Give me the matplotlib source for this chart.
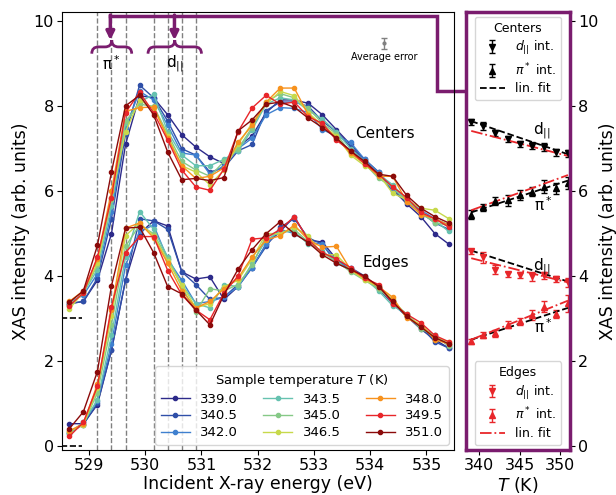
import numpy as np
import matplotlib
matplotlib.use("Agg")
import matplotlib.pyplot as plt
from matplotlib.path import Path
from matplotlib.patches import PathPatch

# incident energy grid (eV)
energy = [528.65, 528.90, 529.15, 529.40, 529.65, 529.90, 530.15, 530.40, 530.65, 530.90,
          531.15, 531.40, 531.65, 531.90, 532.15, 532.40, 532.65, 532.90, 533.15, 533.40,
          533.65, 533.90, 534.15, 534.40, 534.65, 534.90, 535.15, 535.40]

temps = [339.0, 340.5, 342.0, 343.5, 345.0, 346.5, 348.0, 349.5, 351.0]
colors = ["#2d2a8a", "#2f4fa8", "#3f80cf", "#66c2b0", "#86c987",
          "#c7d94b", "#f7921e", "#e8262a", "#8b0a0a"]

# spectra taken at the centers (shifted up by 3)
centers = [
    [3.35, 3.40, 3.90, 5.00, 7.10, 8.25, 8.20, 7.80, 7.33, 7.04, 6.81, 6.65, 7.05, 7.30, 7.85, 8.15, 8.15, 8.07, 7.80, 7.45, 7.10, 6.75, 6.45, 6.05, 5.70, 5.40, 5.00, 4.75],
    [3.35, 3.40, 3.95, 5.35, 7.35, 8.50, 8.20, 7.65, 7.00, 6.85, 6.45, 6.55, 6.95, 7.10, 7.90, 8.10, 8.10, 8.00, 7.65, 7.40, 7.05, 6.70, 6.40, 6.00, 5.75, 5.50, 5.25, 5.10],
    [3.38, 3.55, 4.05, 5.50, 7.50, 8.35, 8.15, 7.55, 6.90, 6.85, 6.40, 6.60, 7.00, 7.25, 7.80, 7.97, 7.95, 7.85, 7.45, 7.30, 7.15, 6.75, 6.45, 6.05, 5.80, 5.55, 5.35, 5.20],
    [3.30, 3.60, 4.15, 5.65, 7.60, 8.10, 8.28, 7.40, 6.85, 6.60, 6.60, 6.75, 6.95, 7.45, 8.05, 8.20, 8.15, 7.90, 7.70, 7.40, 7.00, 6.70, 6.40, 6.15, 5.80, 5.45, 5.30, 5.05],
    [3.32, 3.60, 4.25, 5.80, 7.65, 8.05, 8.00, 7.35, 6.70, 6.50, 6.35, 6.70, 7.00, 7.50, 8.10, 8.30, 8.20, 7.95, 7.60, 7.35, 6.90, 6.65, 6.30, 6.10, 5.75, 5.50, 5.25, 5.20],
    [3.22, 3.62, 4.30, 5.85, 7.40, 8.15, 7.95, 7.30, 6.60, 6.45, 6.15, 6.50, 7.10, 7.60, 8.05, 8.35, 8.25, 7.85, 7.55, 7.30, 6.85, 6.60, 6.40, 5.95, 5.80, 5.60, 5.55, 5.35],
    [3.40, 3.65, 4.40, 6.00, 7.88, 7.97, 7.98, 7.25, 6.60, 6.30, 6.35, 6.55, 7.15, 7.55, 8.10, 8.43, 8.43, 7.80, 7.55, 7.25, 6.90, 6.65, 6.35, 6.35, 5.75, 5.45, 5.35, 5.20],
    [3.30, 3.60, 4.45, 5.85, 7.85, 8.33, 7.85, 7.20, 6.50, 6.10, 6.02, 6.52, 7.40, 7.96, 8.26, 8.05, 8.10, 7.75, 7.60, 7.20, 6.95, 6.65, 6.40, 6.10, 5.85, 5.50, 5.35, 5.15],
    [3.38, 3.65, 4.72, 6.45, 8.01, 8.26, 7.80, 6.92, 6.27, 6.30, 6.25, 6.32, 7.42, 7.68, 8.05, 8.10, 7.98, 7.72, 7.50, 7.25, 6.95, 6.70, 6.40, 6.35, 5.90, 5.60, 5.40, 5.25],
]

# spectra taken at the edges
edges = [
    [0.52, 0.52, 0.97, 2.25, 3.90, 5.00, 5.30, 5.18, 4.10, 3.93, 3.98, 3.45, 3.75, 4.20, 4.75, 5.05, 5.40, 4.85, 4.80, 4.40, 4.15, 3.95, 3.70, 3.35, 3.05, 2.75, 2.50, 2.30],
    [0.30, 0.50, 1.00, 2.25, 3.90, 5.35, 5.30, 5.10, 4.10, 3.80, 3.45, 3.50, 3.80, 4.20, 4.70, 5.15, 5.35, 4.90, 4.75, 4.30, 4.20, 4.00, 3.70, 3.40, 3.05, 2.80, 2.45, 2.30],
    [0.30, 0.55, 1.05, 2.40, 4.25, 5.05, 5.20, 4.40, 3.90, 3.35, 3.40, 3.50, 3.75, 4.20, 4.75, 5.10, 5.00, 4.80, 4.75, 4.35, 4.20, 3.95, 3.75, 3.35, 3.05, 2.80, 2.60, 2.35],
    [0.28, 0.55, 1.08, 2.60, 4.45, 5.52, 5.10, 4.45, 3.80, 3.35, 3.25, 3.80, 3.75, 4.30, 4.85, 5.05, 5.05, 4.75, 4.60, 4.30, 4.15, 3.95, 3.65, 3.30, 3.10, 2.80, 2.55, 2.40],
    [0.32, 0.50, 1.25, 2.85, 4.70, 5.20, 5.00, 4.40, 3.75, 3.15, 3.70, 3.65, 3.80, 4.25, 4.95, 5.00, 5.10, 4.80, 4.55, 4.35, 4.10, 3.90, 3.70, 3.40, 3.10, 2.75, 2.60, 2.35],
    [0.35, 0.48, 1.35, 3.05, 4.95, 5.25, 4.95, 4.35, 3.80, 3.25, 3.35, 3.75, 3.90, 4.40, 5.00, 5.00, 5.15, 4.95, 4.50, 4.50, 4.15, 3.90, 3.75, 3.45, 3.05, 2.85, 2.55, 2.45],
    [0.35, 0.52, 1.45, 3.20, 5.13, 5.25, 4.90, 4.30, 3.65, 3.25, 3.40, 3.70, 3.95, 4.45, 4.85, 4.95, 5.20, 4.85, 4.68, 4.70, 4.15, 3.95, 3.75, 3.50, 3.00, 2.85, 2.50, 2.40],
    [0.22, 0.55, 1.40, 3.28, 4.55, 4.93, 4.93, 4.13, 3.56, 3.20, 2.97, 3.60, 4.00, 4.87, 4.90, 5.10, 5.40, 4.85, 4.55, 4.40, 4.20, 3.95, 3.80, 3.35, 3.10, 2.90, 2.60, 2.45],
    [0.40, 0.80, 1.75, 3.77, 5.13, 5.15, 4.55, 3.75, 3.58, 3.20, 2.85, 3.56, 4.16, 4.62, 5.00, 5.28, 5.00, 4.79, 4.50, 4.30, 4.15, 4.00, 3.75, 3.40, 3.05, 2.80, 2.55, 2.40],
]
offsets = [0, 3]
cut_energies = [529.15, 529.40, 529.65, 530.15, 530.40, 530.65, 530.90]

# integrated intensities vs temperature
c_dpar = [7.64, 7.54, 7.37, 7.22, 7.11, 7.07, 7.04, 6.92, 6.89]
c_dpar_err = [0.07, 0.10, 0.07, 0.07, 0.08, 0.08, 0.09, 0.08, 0.08]
c_pi = [5.45, 5.62, 5.77, 5.79, 5.91, 5.99, 6.11, 6.07, 6.19]
c_pi_err = [0.10, 0.08, 0.10, 0.13, 0.12, 0.10, 0.15, 0.13, 0.15]
e_dpar = [4.58, 4.44, 4.15, 4.04, 4.03, 3.99, 4.02, 3.93, 3.85]
e_dpar_err = [0.05, 0.13, 0.10, 0.06, 0.07, 0.10, 0.08, 0.07, 0.10]
e_pi = [2.46, 2.61, 2.65, 2.85, 2.93, 3.09, 3.28, 3.11, 3.36]
e_pi_err = [0.06, 0.07, 0.08, 0.08, 0.08, 0.12, 0.12, 0.10, 0.20]

fit_T = [339.0, 351.0]
fit_black = {"c_dpar": [7.65, 6.87], "c_pi": [5.50, 6.25], "e_dpar": [4.60, 3.87], "e_pi": [2.50, 3.25]}
fit_red = {"c_dpar": [7.42, 6.83], "c_pi": [5.55, 6.38], "e_dpar": [4.42, 3.85], "e_pi": [2.50, 3.42]}

purple = "#7a1c6e"

fig = plt.figure(figsize=(6.16, 4.95), dpi=100)
ax = fig.add_axes([0.1006, 0.0909, 0.6364, 0.8855])
ax2 = fig.add_axes([0.7565, 0.0909, 0.1688, 0.8855])

for x in cut_energies:
    ax.axvline(x, color="grey", ls="--", lw=1, zorder=0)
for off in offsets:
    ax.plot([528.5, 528.87], [off, off], "k--", lw=1.2)

for T, c, yc, ye in zip(temps, colors, centers, edges):
    ax.plot(energy, yc, "-o", color=c, lw=1, ms=3, label=f"{T:.1f}")
    ax.plot(energy, ye, "-o", color=c, lw=1, ms=3)

ax.errorbar([534.25], [9.49], yerr=[0.13], fmt="o", color="grey", ms=2, capsize=2, lw=1)
ax.text(534.25, 9.17, "Average error", ha="center", va="center", fontsize=7)
ax.text(534.27, 7.37, "Centers", ha="center", va="center", fontsize=11)
ax.text(534.27, 4.31, "Edges", ha="center", va="center", fontsize=11)
ax.text(529.40, 9.0, r"π$^*$", ha="center", va="center", fontsize=11)
ax.text(530.52, 9.0, r"d$_{||}$", ha="center", va="center", fontsize=11)


def brace(ax, x0, x1, y, h, w):
    xm = 0.5 * (x0 + x1)
    verts = [(x0, y - h), (x0, y), (x0 + w, y), (xm - w, y), (xm, y), (xm, y + h),
             (xm, y), (xm + w, y), (x1 - w, y), (x1, y), (x1, y - h)]
    codes = [Path.MOVETO, Path.CURVE3, Path.CURVE3, Path.LINETO, Path.CURVE3, Path.CURVE3,
             Path.CURVE3, Path.CURVE3, Path.LINETO, Path.CURVE3, Path.CURVE3]
    ax.add_patch(PathPatch(Path(verts, codes), fc="none", ec=purple, lw=2, clip_on=False))


brace(ax, 529.05, 529.76, 9.40, 0.16, 0.12)
brace(ax, 530.05, 531.00, 9.40, 0.16, 0.12)

# connector from the braces to the side panel
ax.plot([529.38, 535.18, 535.18, 535.72], [10.13, 10.13, 8.36, 8.36],
        color=purple, lw=2.5, clip_on=False, solid_joinstyle="miter")
for xa in [529.38, 530.52]:
    ax.annotate("", xy=(xa, 9.56), xytext=(xa, 10.15),
                arrowprops=dict(arrowstyle="-|>", color=purple, lw=2.5, mutation_scale=12,
                                shrinkA=0, shrinkB=0))

ax.set_xlim(528.52, 535.49)
ax.set_ylim(-0.1, 10.23)
ax.set_xticks([529, 530, 531, 532, 533, 534, 535])
ax.set_yticks([0, 2, 4, 6, 8, 10])
ax.tick_params(labelsize=11.5, pad=2.5)
ax.set_xlabel("Incident X-ray energy (eV)", fontsize=12.5, labelpad=1)
ax.set_ylabel("XAS intensity (arb. units)", fontsize=12.5, labelpad=2)
ax.legend(loc="lower right", ncol=3, fontsize=9.5, title="Sample temperature $T$ (K)",
          title_fontsize=9.5, handlelength=2.2, columnspacing=1.9, borderaxespad=0.4,
          labelspacing=0.3)

# side panel
h1 = ax2.errorbar(temps, c_dpar, yerr=c_dpar_err, fmt="v", color="black", ms=5, capsize=2.5, lw=1)
h2 = ax2.errorbar(temps, c_pi, yerr=c_pi_err, fmt="^", color="black", ms=5, capsize=2.5, lw=1)
h4 = ax2.errorbar(temps, e_dpar, yerr=e_dpar_err, fmt="v", color="#e8262a", ms=5, capsize=2.5, lw=1)
h5 = ax2.errorbar(temps, e_pi, yerr=e_pi_err, fmt="^", color="#e8262a", ms=5, capsize=2.5, lw=1)
for key in fit_black:
    h3, = ax2.plot(fit_T, fit_black[key], "k--", lw=1.3)
    h6, = ax2.plot(fit_T, fit_red[key], "-.", color="#e8262a", lw=1.3)

ax2.text(347.7, 7.42, r"d$_{||}$", ha="center", va="center", fontsize=11)
ax2.text(347.9, 5.68, r"π$^*$", ha="center", va="center", fontsize=11)
ax2.text(347.7, 4.22, r"d$_{||}$", ha="center", va="center", fontsize=11)
ax2.text(347.9, 2.80, r"π$^*$", ha="center", va="center", fontsize=11)

leg1 = ax2.legend([h1, h2, h3], [r"$d_{||}$ int.", r"$\pi^*$ int.", "lin. fit"],
                  loc="upper center", title="Centers", fontsize=9, title_fontsize=9,
                  handlelength=2.0, borderaxespad=0.4, labelspacing=0.35)
ax2.add_artist(leg1)
ax2.legend([h4, h5, h6], [r"$d_{||}$ int.", r"$\pi^*$ int.", "lin. fit"],
           loc="lower center", title="Edges", fontsize=9, title_fontsize=9,
           handlelength=2.0, borderaxespad=0.4, labelspacing=0.35)

ax2.set_xlim(338.35, 351.25)
ax2.set_ylim(-0.1, 10.23)
ax2.set_xticks([340, 345, 350])
ax2.set_yticks([0, 2, 4, 6, 8, 10])
ax2.yaxis.tick_right()
ax2.yaxis.set_label_position("right")
ax2.tick_params(labelsize=11.5, pad=2.5)
ax2.set_xlabel("$T$ (K)", fontsize=12.5, labelpad=1)
ax2.set_ylabel("XAS intensity (arb. units)", fontsize=12.5, labelpad=0)
for s in ax2.spines.values():
    s.set_color(purple)
    s.set_linewidth(2.5)

fig.savefig("out.png", dpi=100)
